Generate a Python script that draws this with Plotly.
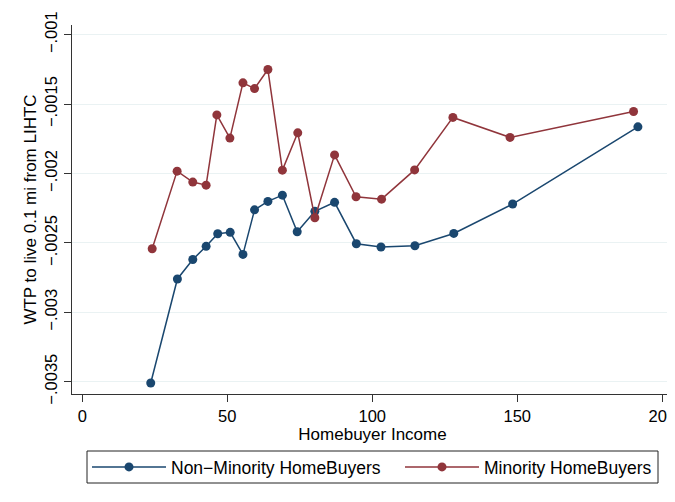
import plotly.graph_objects as go

# Data
income_nonmin = [23.6, 32.8, 38.1, 42.7, 46.7, 51.0, 55.4, 59.4, 64.0, 69.0,
                 74.1, 80.2, 87.0, 94.5, 103.0, 114.7, 128.1, 148.4, 191.6]
wtp_nonmin = [-0.00351, -0.00276, -0.00262, -0.002525, -0.002434, -0.002424,
              -0.002583, -0.002262, -0.002201, -0.002156, -0.00242, -0.002273,
              -0.002208, -0.002506, -0.00253, -0.002521, -0.002432, -0.00222,
              -0.001664]

income_min = [24.1, 32.7, 38.1, 42.7, 46.4, 50.9, 55.4, 59.4, 64.0, 69.0,
              74.3, 80.2, 87.0, 94.4, 103.2, 114.6, 127.8, 147.5, 190.1]
wtp_min = [-0.002542, -0.001983, -0.002062, -0.002084, -0.001578, -0.001745,
           -0.001347, -0.001388, -0.001251, -0.001976, -0.001707, -0.002319,
           -0.001866, -0.002168, -0.002185, -0.001974, -0.001596, -0.00174,
           -0.001553]

x_ticks = [0, 50, 100, 150, 200]
y_ticks = [-0.0035, -0.003, -0.0025, -0.002, -0.0015, -0.001]
y_ticklabels = ["\u2212.0035", "\u2212.003", "\u2212.0025", "\u2212.002", "\u2212.0015", "\u2212.001"]

series_names = ["Non\u2212Minority HomeBuyers", "Minority HomeBuyers"]
NAVY = "#1a476f"
MAROON = "#90353b"
FONT = "Liberation Sans, Arial, sans-serif"

fig = go.Figure()
fig.add_trace(go.Scatter(x=income_nonmin, y=wtp_nonmin, mode="lines+markers",
                         name=series_names[0], legend="legend",
                         line=dict(color=NAVY, width=1.5),
                         marker=dict(color=NAVY, size=9)))
fig.add_trace(go.Scatter(x=income_min, y=wtp_min, mode="lines+markers",
                         name=series_names[1], legend="legend2",
                         line=dict(color=MAROON, width=1.5),
                         marker=dict(color=MAROON, size=9)))

# page body has an 8px margin; work in screen coordinates
OFF = 8
W, H = 675 - OFF, 502 - OFF
L, R, T, B = 72 - OFF, 673 - OFF, 25 - OFF, 394 - OFF

def px(xs):
    return (xs - OFF - L) / (R - L)

def py(ys):
    return (B - (ys - OFF)) / (B - T)

leg_common = dict(orientation="h", yanchor="middle", y=py(467), xanchor="left",
                  borderwidth=0, bgcolor="rgba(0,0,0,0)",
                  font=dict(size=17.5), itemwidth=74)

fig.update_layout(
    width=W, height=H,
    margin=dict(l=L, r=W - R, t=T, b=H - B, autoexpand=False),
    paper_bgcolor="white", plot_bgcolor="white",
    font=dict(family=FONT, size=17, color="black"),
    showlegend=True,
    legend=dict(x=px(87), **leg_common),
    legend2=dict(x=px(400), **leg_common),
    shapes=[dict(type="rect", xref="paper", yref="paper",
                 x0=px(87), x1=px(658), y0=py(451), y1=py(483),
                 line=dict(color="#222222", width=1), fillcolor="rgba(0,0,0,0)")],
)

fig.update_xaxes(
    range=[-3.55, 203.7], tickvals=x_ticks, ticktext=[str(v) for v in x_ticks],
    showgrid=False, zeroline=False,
    showline=True, linecolor="#333333", linewidth=1,
    ticks="outside", ticklen=7, tickcolor="#333333", tickwidth=1,
    tickfont=dict(size=16.5), ticklabeloverflow="allow",
    title=dict(text="Homebuyer Income", font=dict(size=17), standoff=4),
)
fig.update_yaxes(
    range=[-0.003589, -0.00093], tickvals=y_ticks, ticktext=y_ticklabels,
    showgrid=True, gridcolor="#eaf2f3", gridwidth=1.2, zeroline=False,
    showline=True, linecolor="#333333", linewidth=1,
    ticks="outside", ticklen=7, tickcolor="#333333", tickwidth=1,
    tickangle=-90, tickfont=dict(size=16.5), ticklabeloverflow="allow",
    title=dict(text="WTP to live 0.1 mi from LIHTC", font=dict(size=17), standoff=1),
)

fig.write_html("out.html")
